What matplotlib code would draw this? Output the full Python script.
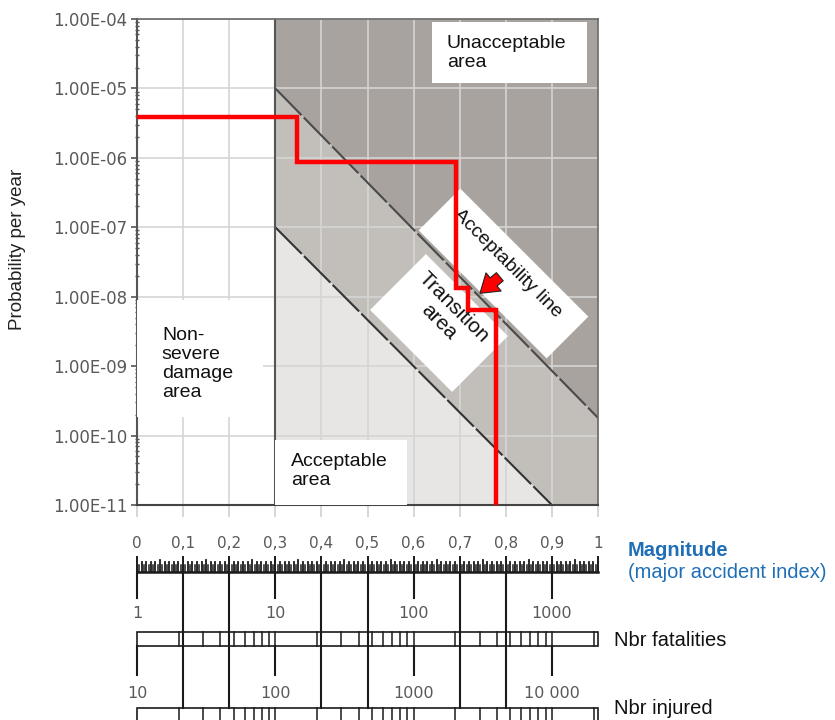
import numpy as np
import matplotlib
matplotlib.use("Agg")
import matplotlib.pyplot as plt
from matplotlib.patches import Rectangle
from matplotlib.transforms import Affine2D
from matplotlib.ticker import LogLocator, NullFormatter

# ---------------- data ----------------
mag_ticks = [0, 0.1, 0.2, 0.3, 0.4, 0.5, 0.6, 0.7, 0.8, 0.9, 1.0]
mag_labels = ["0", "0,1", "0,2", "0,3", "0,4", "0,5", "0,6", "0,7", "0,8", "0,9", "1"]
prob_ticks = [1e-11, 1e-10, 1e-9, 1e-8, 1e-7, 1e-6, 1e-5, 1e-4]
prob_labels = ["1.00E-11", "1.00E-10", "1.00E-09", "1.00E-08",
               "1.00E-07", "1.00E-06", "1.00E-05", "1.00E-04"]

# risk curve (step, post)
risk_mag = [0.0, 0.348, 0.693, 0.718, 0.778]
risk_prob = [3.9e-6, 8.6e-7, 1.35e-8, 6.5e-9, 1e-11]

# boundary lines
severe_threshold = 0.3
accept_line_mag = [0.3, 1.0]
accept_line_prob = [1e-5, 1.8e-10]
lower_line_mag = [0.3, 0.9]
lower_line_prob = [1e-7, 1e-11]

# nomogram scales
decade_width = 0.3
scale_label_mag = [0.0, 0.3, 0.6, 0.9]
fatal_labels = ["1", "10", "100", "1000"]
injured_labels = ["10", "100", "1000", "10 000"]
fatal_base = 1
injured_base = 10

# ---------------- figure ----------------
W, H, DPI = 835, 720, 100
fig = plt.figure(figsize=(W / DPI, H / DPI), dpi=DPI)
plt.rcParams["font.family"] = ["DejaVu Sans"]

L, R, T, B = 137, 598, 19, 505
ax = fig.add_axes([L / W, 1 - B / H, (R - L) / W, (B - T) / H])
ax.set_yscale("log")
ax.set_xlim(0, 1)
ax.set_ylim(prob_ticks[0], prob_ticks[-1])

ymin, ymax = prob_ticks[0], prob_ticks[-1]
c_unacc, c_trans, c_acc = "#a8a39e", "#c2bfbb", "#e7e6e5"
# unacceptable area
ax.fill([severe_threshold, 1, 1, severe_threshold],
        [ymax, ymax, accept_line_prob[1], accept_line_prob[0]],
        color=c_unacc, lw=0, zorder=0.2)
# transition area
ax.fill([accept_line_mag[0], accept_line_mag[1], 1, lower_line_mag[1], lower_line_mag[0]],
        [accept_line_prob[0], accept_line_prob[1], ymin, lower_line_prob[1], lower_line_prob[0]],
        color=c_trans, lw=0, zorder=0.2)
# acceptable area
ax.fill([lower_line_mag[0], lower_line_mag[1], severe_threshold],
        [lower_line_prob[0], lower_line_prob[1], ymin],
        color=c_acc, lw=0, zorder=0.2)

ax.set_axisbelow(True)
ax.grid(True, which="major", color="#d5d5d5", lw=1.2)

ax.plot(accept_line_mag, accept_line_prob, color="#4a4a4a", lw=1.5,
        dashes=(18, 1.5), zorder=1.5)
ax.plot(lower_line_mag, lower_line_prob, color="#333333", lw=1.5,
        dashes=(18, 1.5), zorder=1.5)
ax.axvline(severe_threshold, color="#555555", lw=1.5, zorder=1.6)

# white label boxes
def axbox(x0, y0, w, h):
    ax.add_patch(Rectangle((x0, y0), w, h, transform=ax.transAxes,
                           fc="white", ec="none", zorder=3))

axbox(0.64, 0.868, 0.336, 0.126)
axbox(0.30, 0.0, 0.286, 0.134)
axbox(0.0, 0.181, 0.273, 0.241)

lab_font = dict(family="Liberation Sans", fontsize=14, color="#111111", zorder=3.5)
ax.text(0.672, 0.931, "Unacceptable\narea", transform=ax.transAxes,
        ha="left", va="center", linespacing=1.15, **lab_font)
ax.text(0.334, 0.069, "Acceptable\narea", transform=ax.transAxes,
        ha="left", va="center", linespacing=1.15, **lab_font)
ax.text(0.054, 0.29, "Non-\nsevere\ndamage\narea", transform=ax.transAxes,
        ha="left", va="center", linespacing=1.15, **lab_font)

def rot_box(cx, cy, w, h, angle):
    tr = Affine2D().rotate_deg(angle).translate(cx / DPI, (H - cy) / DPI) + fig.dpi_scale_trans
    r = Rectangle((-w / 2 / DPI, -h / 2 / DPI), w / DPI, h / DPI, transform=tr,
                  fc="white", ec="none", zorder=3)
    ax.add_artist(r)

def rot_text(cx, cy, s, size):
    ax.text(cx / DPI, (H - cy) / DPI, s, transform=fig.dpi_scale_trans, rotation=-45,
            rotation_mode="anchor", ha="center", va="center", multialignment="center",
            family="Liberation Sans", fontsize=size, color="#111111", zorder=3.5,
            linespacing=1.1)

rot_box(503.5, 273.5, 181, 59, -45)
rot_text(507, 263, "Acceptability line", 14)
rot_box(439, 323, 116, 79, -45)
rot_text(446, 315, "Transition\narea", 15)

# risk curve
ax.step(risk_mag, risk_prob, where="post", color="#ff0000", lw=3.2, zorder=5,
        solid_joinstyle="miter")

# arrow
ax.annotate("", xy=(0.744, 1.12e-8), xytext=(0.787, 1.94e-8),
            arrowprops=dict(arrowstyle="simple,head_length=0.75,head_width=1.0,tail_width=0.45",
                            fc="#ff0000", ec="#222222", lw=0.8, mutation_scale=17,
                            shrinkA=0, shrinkB=0), zorder=6)

# axes styling
ax.set_xticks(mag_ticks, mag_labels)
ax.tick_params(axis="x", length=8.6, width=1.2, color="#d0d0d0", pad=14,
               labelsize=11, labelcolor="#595959")
for i in (3, 10):
    ax.xaxis.get_major_ticks()[i].tick1line.set_color("#555555")
ax.set_yticks(prob_ticks, prob_labels)
ax.yaxis.set_minor_locator(LogLocator(base=10, subs=np.arange(2, 10)))
ax.yaxis.set_minor_formatter(NullFormatter())
ax.tick_params(axis="y", which="major", length=4, width=1.2, color="#555555",
               labelsize=12, labelcolor="#595959", pad=3)
ax.tick_params(axis="y", which="minor", length=3.5, width=1.0, color="#555555",
               direction="inout")
ax.spines["left"].set(color="#555555", lw=1.5)
ax.spines["bottom"].set(color="#444444", lw=1.5)
ax.spines["top"].set(color="#666666", lw=1.2)
ax.spines["right"].set(color="#666666", lw=1.2)

fig.text(18 / W, 1 - 249 / H, "Probability per year", rotation=90, ha="center",
         va="center", family="Liberation Sans", fontsize=13.5, color="#222222")

# ---------------- nomogram ----------------
NT, NB = 520, 720
ax2 = fig.add_axes([L / W, 1 - NB / H, (R - L) / W, (NB - NT) / H])
ax2.set_xlim(0, 1)
ax2.set_ylim(NB, NT)
ax2.axis("off")

ink = "#1a1a1a"
ruler_y = 571.5
ax2.plot([0, 1], [ruler_y, ruler_y], color=ink, lw=1.8, clip_on=False)
fine = np.round(np.arange(0, 1.0001, 0.005), 3)
for m in fine:
    if abs(m * 10 - round(m * 10)) < 1e-6:
        top, lw = 557, 1.4
    elif abs(m * 20 - round(m * 20)) < 1e-6:
        top, lw = 560, 1.3
    elif abs(m * 100 - round(m * 100)) < 1e-6:
        top, lw = 562, 1.3
    else:
        top, lw = 565, 1.1
    ax2.plot([m, m], [ruler_y, top], color=ink, lw=lw, clip_on=False)

fat_top, fat_bot = 631.5, 645.5
inj_top, inj_bot = 708, 722
long_lines = [m for m in mag_ticks if m not in scale_label_mag and m < 1]
for m in long_lines:
    ax2.plot([m, m], [ruler_y, inj_top], color=ink, lw=1.5, clip_on=False)
for m in scale_label_mag:
    ax2.plot([m, m], [ruler_y, 598], color=ink, lw=1.5, clip_on=False)
    ax2.plot([m, m], [fat_bot, 675], color=ink, lw=1.5, clip_on=False)
for m, s in zip(scale_label_mag, fatal_labels):
    ax2.text(m, 614, s, ha="center", va="center", fontsize=11.5, color="#595959")
for m, s in zip(scale_label_mag, injured_labels):
    ax2.text(m, 693, s, ha="center", va="center", fontsize=11.5, color="#595959")

def count_bar(base, ytop, ybot):
    ax2.add_patch(Rectangle((0, ytop), 1, ybot - ytop, fc="white", ec=ink, lw=1.2,
                            clip_on=False, zorder=1))
    for dec in range(0, 4):
        for k in range(1, 10):
            n = k * 10 ** dec
            m = decade_width * np.log10(n)
            if 0 < m < 1:
                ax2.plot([m, m], [ytop, ybot], color=ink, lw=1.1, clip_on=False, zorder=2)

count_bar(fatal_base, fat_top, fat_bot)
count_bar(injured_base, inj_top, inj_bot)

blue = "#1f6fb8"
fig.text(628 / W, 1 - 550 / H, "Magnitude", ha="left", va="center", fontsize=14.5,
         fontweight="bold", color=blue, family="Liberation Sans")
fig.text(628 / W, 1 - 573 / H, "(major accident index)", ha="left", va="center",
         fontsize=14.5, color=blue, family="Liberation Sans")
fig.text(614 / W, 1 - 640 / H, "Nbr fatalities", ha="left", va="center",
         fontsize=14.5, color="#111111", family="Liberation Sans")
fig.text(614 / W, 1 - 709 / H, "Nbr injured", ha="left", va="center",
         fontsize=14.5, color="#111111", family="Liberation Sans")

fig.savefig("out.png", dpi=DPI)
